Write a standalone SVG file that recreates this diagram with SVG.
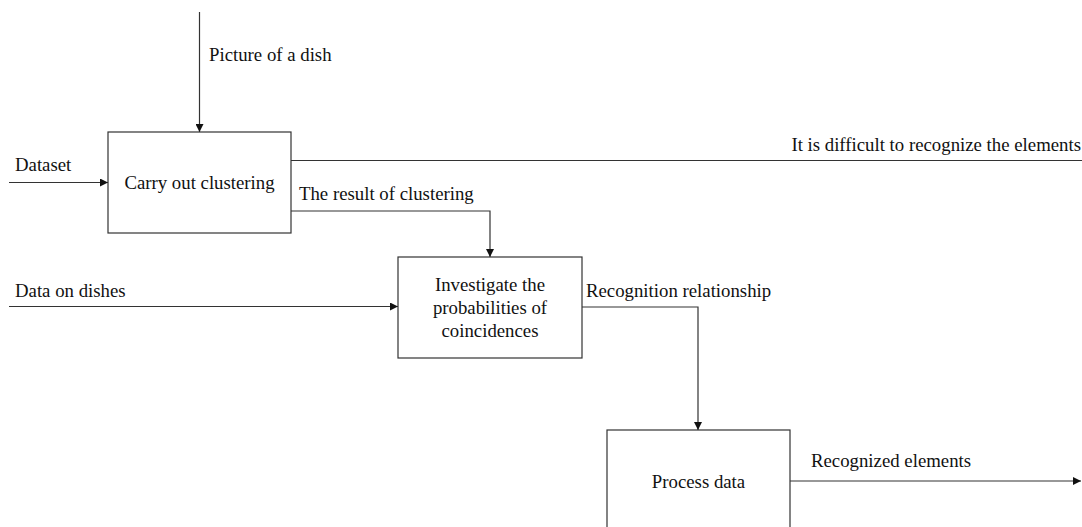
<svg xmlns="http://www.w3.org/2000/svg" width="1082" height="527" viewBox="0 0 1082 527">
  <style>
    .box { fill: #ffffff; stroke: #333333; stroke-width: 1.2; }
    .wire { fill: none; stroke: #333333; stroke-width: 1.2; }
    text { font-family: "Liberation Serif", "Times New Roman", serif; font-size: 18.8px; fill: #111111; }
    .mid { text-anchor: middle; }
    .end { text-anchor: end; }
  </style>
  <defs>
    <marker id="arrow" viewBox="0 0 8 8" refX="8" refY="4" markerWidth="8" markerHeight="8" markerUnits="userSpaceOnUse" orient="auto">
      <path d="M0,0 L8,4 L0,8 Z" fill="#111111"/>
    </marker>
  </defs>
  <rect width="1082" height="527" fill="#ffffff"/>

  <g id="connectors">
    <path class="wire" d="M199.5,12 V132" marker-end="url(#arrow)"/>
    <path class="wire" d="M9,182.5 H108" marker-end="url(#arrow)"/>
    <path class="wire" d="M291,160.5 H1082"/>
    <path class="wire" d="M291,211 H490 V257" marker-end="url(#arrow)"/>
    <path class="wire" d="M9,306.5 H398" marker-end="url(#arrow)"/>
    <path class="wire" d="M582,307 H698 V430" marker-end="url(#arrow)"/>
    <path class="wire" d="M790,481 H1081" marker-end="url(#arrow)"/>
    <text x="209" y="61">Picture of a dish</text>
    <text x="15" y="171">Dataset</text>
    <text class="end" x="1081" y="151">It is difficult to recognize the elements</text>
    <text x="299" y="200">The result of clustering</text>
    <text x="15" y="297">Data on dishes</text>
    <text x="586" y="297">Recognition relationship</text>
    <text x="811" y="467">Recognized elements</text>
  </g>

  <g id="node-clustering">
    <rect class="box" x="108" y="132" width="183" height="101"/>
    <text class="mid" x="199.5" y="189">Carry out clustering</text>
  </g>

  <g id="node-investigate">
    <rect class="box" x="398" y="257" width="184" height="101"/>
    <text class="mid" x="490" y="291">Investigate the</text>
    <text class="mid" x="490" y="314">probabilities of</text>
    <text class="mid" x="490" y="337">coincidences</text>
  </g>

  <g id="node-process">
    <rect class="box" x="607" y="430" width="183" height="110"/>
    <text class="mid" x="698.5" y="488">Process data</text>
  </g>
</svg>
